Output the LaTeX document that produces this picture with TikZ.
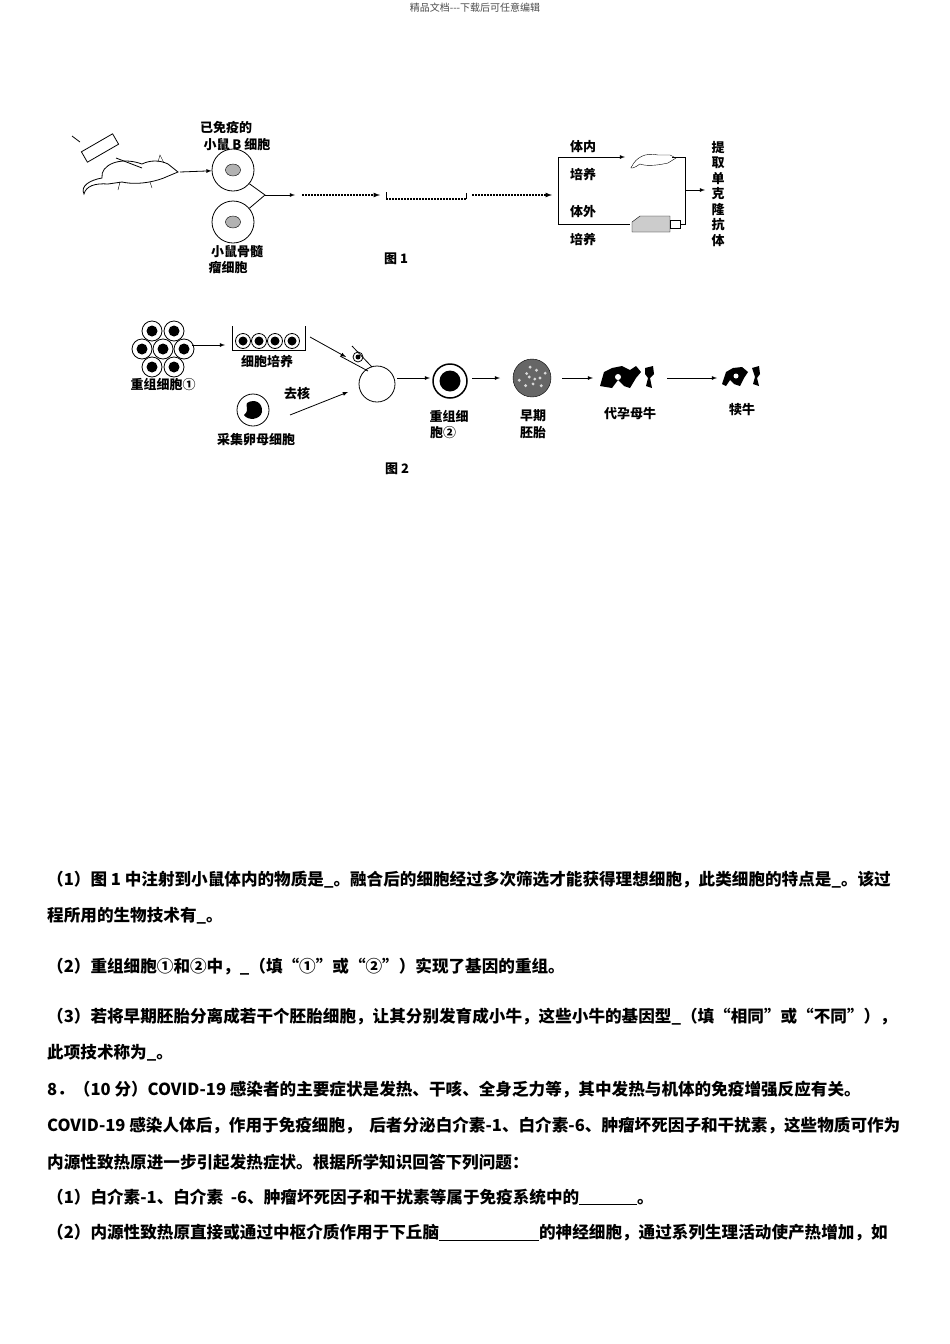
\documentclass[tikz,border=0pt]{standalone}
\usepackage{fontspec}
\usetikzlibrary{shapes.geometric}
\setmainfont{Liberation Serif}
\newfontfamily\cjk{Noto Sans CJK SC}
\newcommand\cjkb{\cjk\bfseries}
\begin{document}
\begin{tikzpicture}[x=1pt,y=-1pt,
  lbl/.style={font=\cjkb\fontsize{13}{15}\selectfont,inner sep=0pt},
  body/.style={font=\cjkb\fontsize{16.6}{18}\selectfont,inner sep=0pt,anchor=west},
  arr/.style={-latex,thick},
  dotl/.style={line width=1.2pt,dash pattern=on 1.5pt off 1.5pt},
  cell/.style={circle,draw,thick,minimum size=#1,inner sep=0pt}]
\useasboundingbox (0,0) rectangle (950,1344);
\fill[white] (0,0) rectangle (950,1344);
\node[font=\cjk\fontsize{10}{12}\selectfont,text=black!70] (hdr) at (475,8) {精品文档---下载后可任意编辑};
% ---------- Figure 1
\draw[thick] (72,136) -- (80,142);
\draw[thick,fill=white,rotate around={30:(100,148)}] (82,142) rectangle (118,154);
\draw[thick] (116,158) -- (142,168);
\draw[thick] (142,164) .. controls (120,156) and (100,165) .. (102,178) .. controls (90,180) and (80,186) .. (84,194) .. controls (86,186) and (95,183) .. (108,184) -- (122,182) .. controls (140,186) and (160,180) .. (166,177) -- (178,172) -- (168,164) .. controls (160,160) and (150,160) .. (142,164);
\draw (158,162) -- (160,155) -- (164,163);
\draw (120,182) -- (118,190); \draw (150,182) -- (152,188);
\node[coordinate] (ms) at (180,172) {};
\node[cell=42] (bc) at (233,170) {};
\node[ellipse,draw,fill=gray!60,minimum width=15,minimum height=12,inner sep=0] (bn) at (233,170) {};
\node[cell=42] (mc) at (233,222) {};
\node[ellipse,draw,fill=gray!60,minimum width=15,minimum height=12,inner sep=0] (mn) at (233,222) {};
\draw[arr] (ms) -- (bc);
\node[lbl] (l1) at (226,128) {已免疫的};
\node[lbl] (l2) at (237,145) {小鼠 B 细胞};
\node[lbl] (l3) at (237,252) {小鼠骨髓};
\node[lbl] (l4) at (228,268) {瘤细胞};
\coordinate (j) at (265,195);
\draw[thick] (bc.-40) -- (j) -- (mc.40);
\draw[arr] (j) -- (295,195);
\draw[dotl,-latex] (302,195) -- (380,195);
\draw[thick] (386,192) -- (386,199);
\draw[dotl] (386,199) -- (466,199);
\draw[thick] (466,199) -- (466,193);
\draw[dotl,-latex] (472,195) -- (552,195);
\coordinate (bt) at (558,157); \coordinate (bb) at (558,224);
\draw[thick] (bb) -- (bt);
\draw[arr] (bt) -- (625,157);
\draw[thick] (bb) -- (630,224);
\node[lbl] at (583,147) {体内};
\node[lbl] at (583,175) {培养};
\node[lbl] at (583,212) {体外};
\node[lbl] at (583,240) {培养};
\draw (632,166) .. controls (636,158) and (645,152) .. (658,155) -- (670,155) -- (676,158) -- (668,163) .. controls (655,166) and (645,166) .. (640,164) .. controls (635,168) and (628,170) .. (632,166);
\draw[fill=gray!40] (632,222) -- (640,216) -- (670,216) -- (670,232) -- (632,232) -- cycle;
\draw (670,220) rectangle (680,228);
\draw[thick] (672,157) -- (685,157) -- (685,224) -- (680,224);
\draw[arr] (685,190) -- (705,190);
\node[lbl,align=center,font=\cjkb\fontsize{13}{15.5}\selectfont] (tq) at (718,194) {提\\取\\单\\克\\隆\\抗\\体};
\node[lbl] at (396,259) {图 1};
% ---------- Figure 2
\foreach \p in {(152,331),(174,331),(142,349),(163,349),(184,349),(152,367),(174,367)}{
  \draw[thick,fill=white] \p circle (10); \fill \p circle (5.5);}
\node[lbl] (c1) at (163,385) {重组细胞①};
\draw[arr] (192,345) -- (225,345);
\draw[thick] (232,326) -- (232,350) -- (305,350) -- (305,326);
\foreach \x in {243,259,275,292}{\draw[thick] (\x,341) circle (7.5); \fill (\x,341) circle (4.5);}
\node[lbl] at (267,362) {细胞培养};
\draw[arr] (310,337) -- (346,357);
\node[cell=36] (egg) at (377,384) {};
\draw[thick] (340,356) -- (368,371); \draw[thick] (352,346) -- (372,367);
\draw[thick] (358,357) circle (5); \fill (358,357) circle (2.5);
\draw[thick] (253,410) circle (16);
\fill (247,403) .. controls (255,398) and (263,403) .. (262,412) .. controls (260,420) and (248,421) .. (244,415) .. controls (250,410) and (245,406) .. (247,403);
\node[lbl] at (256,440) {采集卵母细胞};
\node[lbl] at (297,393) {去核};
\draw[arr] (290,415) -- (348,392);
\draw[arr] (397,378) -- (430,378);
\node[cell=34,line width=1.5pt] (c2) at (450,381) {};
\fill (450,381) circle (10.5);
\draw[arr] (472,378) -- (500,378);
\node[circle,minimum size=38,inner sep=0,draw,fill=black!60] (emb) at (532,378) {};
\foreach \a/\r in {0/8,40/12,80/6,130/10,170/13,220/7,260/11,300/9,340/14,20/3,200/3}{\fill[white!70!gray] (532,378) ++(\a:\r) circle (1.6);}
\draw[arr] (562,378) -- (593,378);
\node[lbl] at (533,416) {早期};
\node[lbl] at (533,433) {胚胎};
\node[lbl] at (449,416) {重组细};
\node[lbl] at (443,433) {胞②};
\fill (600,386) -- (604,372) -- (612,368) -- (622,366) -- (630,370) -- (636,366) -- (641,372) -- (636,378) -- (630,388) -- (624,386) -- (618,380) -- (612,388) -- cycle;
\fill[white] (618,377) circle (3);
\fill (645,368) -- (653,366) -- (654,374) -- (650,378) -- (652,388) -- (646,386) -- (648,378) -- (645,374) -- cycle;
\node[lbl] at (630,414) {代孕母牛};
\draw[arr] (667,378) -- (717,378);
\fill (722,384) -- (726,372) -- (733,368) -- (742,367) -- (748,372) -- (744,378) -- (740,386) -- (734,384) -- (730,380) -- (726,386) -- cycle;
\fill[white] (736,376) circle (2.5);
\fill (752,368) -- (759,366) -- (760,374) -- (757,378) -- (759,386) -- (753,384) -- (755,377) -- cycle;
\node[lbl] at (742,410) {犊牛};
\node[lbl] at (397,469) {图 2};
% ---------- Text
\node[body] (t1) at (47,880) {（1）图 \textbf{1} 中注射到小鼠体内的物质是\_。融合后的细胞经过多次筛选才能获得理想细胞，此类细胞的特点是\_。该过};
\node[body] (t2) at (47,916) {程所用的生物技术有\_。};
\node[body] (t3) at (47,967) {（2）重组细胞①和②中，\_（填“①”或“②”）实现了基因的重组。};
\node[body] (t4) at (47,1017) {（3）若将早期胚胎分离成若干个胚胎细胞，让其分别发育成小牛，这些小牛的基因型\_（填“相同”或“不同”），};
\node[body] (t5) at (47,1053) {此项技术称为\_。};
\node[body] (t6) at (47,1090) {\textbf{8}．（\textbf{10} 分）\textbf{COVID-19} 感染者的主要症状是发热、干咳、全身乏力等，其中发热与机体的免疫增强反应有关。};
\node[body] (t7) at (47,1126) {\textbf{COVID-19} 感染人体后，作用于免疫细胞，\ \ 后者分泌白介素\textbf{-1}、白介素\textbf{-6}、肿瘤坏死因子和干扰素，这些物质可作为};
\node[body] (t8) at (47,1162) {内源性致热原进一步引起发热症状。根据所学知识回答下列问题：};
\node[body] (t9) at (47,1197) {（1）白介素\textbf{-1}、白介素\ \ \textbf{-6}、肿瘤坏死因子和干扰素等属于免疫系统中的\rule[-2pt]{58pt}{0.8pt}。};
\node[body] (t10) at (47,1233) {（2）内源性致热原直接或通过中枢介质作用于下丘脑\rule[-2pt]{100pt}{0.8pt}的神经细胞，通过系列生理活动使产热增加，如};
\end{tikzpicture}
\end{document}
